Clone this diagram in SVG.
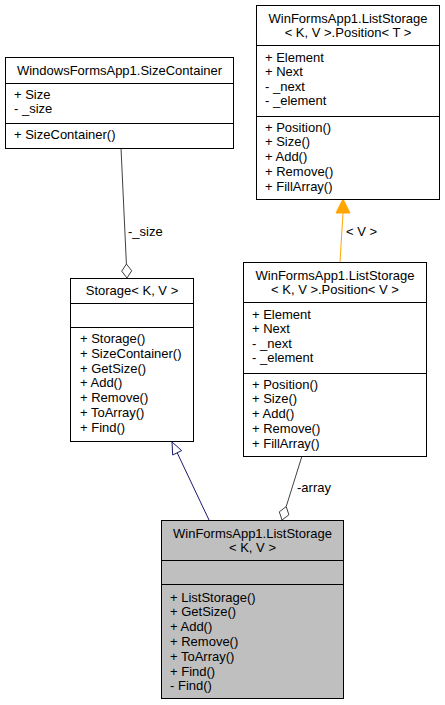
<svg xmlns="http://www.w3.org/2000/svg" width="445" height="705" viewBox="0 0 445 705">
<style>
.box{fill:#fff;stroke:#000;stroke-width:1}
.cur{fill:#bfbfbf;stroke:#000;stroke-width:1}
.div{stroke:#000;stroke-width:1}
text{font-family:"Liberation Sans",Arial,sans-serif;font-size:13px;fill:#000}
.c{text-anchor:middle}
.agg{fill:none;stroke:#404040;stroke-width:1}
.aggh{fill:#fff;stroke:#404040;stroke-width:1}
.inh{fill:none;stroke:#191970;stroke-width:1}
.inhh{fill:#fff;stroke:#191970;stroke-width:1}
.tpl{fill:none;stroke:#ffa500;stroke-width:1}
.tplh{fill:#ffa500;stroke:#ffa500;stroke-width:1}
</style>
<rect width="445" height="705" fill="#fff"/>
<g id="connectors">
  <path class="agg" d="M121,148 L126.4,264"/>
  <polygon class="aggh" points="127,278 131.7,270.8 126.4,264 121.7,271.2"/>
  <text x="128" y="236">-_size</text>
  <path class="inh" d="M209,520 L177.2,452.8"/>
  <polygon class="inhh" points="172,442 181.7,450.6 172.7,455"/>
  <path class="tpl" d="M340,262 L343,213"/>
  <polygon class="tplh" points="343,199 350,213 336,213"/>
  <text x="346" y="236">&lt; V &gt;</text>
  <path class="agg" d="M302,456 L286.2,506.6"/>
  <polygon class="aggh" points="282,520 288.9,514.8 286.2,506.6 279.3,511.8"/>
  <text x="297" y="492">-array</text>
</g>
<g id="SizeContainer">
  <rect class="box" x="5.5" y="57.5" width="228" height="91"/>
  <line class="div" x1="5.5" y1="83.5" x2="233.5" y2="83.5"/>
  <line class="div" x1="5.5" y1="123.5" x2="233.5" y2="123.5"/>
  <text class="c" x="119.5" y="74.5">WindowsFormsApp1.SizeContainer</text>
  <text x="14" y="98.5">+ Size</text>
  <text x="14" y="113">- _size</text>
  <text x="14" y="138.5">+ SizeContainer()</text>
</g>
<g id="PositionT">
  <rect class="box" x="256.5" y="5.5" width="183" height="194"/>
  <line class="div" x1="256.5" y1="45.5" x2="439.5" y2="45.5"/>
  <line class="div" x1="256.5" y1="116.5" x2="439.5" y2="116.5"/>
  <text class="c" x="348" y="22.5">WinFormsApp1.ListStorage</text>
  <text class="c" x="348" y="36.5">&lt; K, V &gt;.Position&lt; T &gt;</text>
  <text x="265" y="61.5">+ Element</text>
  <text x="265" y="76">+ Next</text>
  <text x="265" y="90.5">- _next</text>
  <text x="265" y="105">- _element</text>
  <text x="265" y="131.5">+ Position()</text>
  <text x="265" y="146.2">+ Size()</text>
  <text x="265" y="161">+ Add()</text>
  <text x="265" y="175.7">+ Remove()</text>
  <text x="265" y="190.5">+ FillArray()</text>
</g>
<g id="Storage">
  <rect class="box" x="70.5" y="278.5" width="123" height="163"/>
  <line class="div" x1="70.5" y1="303.5" x2="193.5" y2="303.5"/>
  <line class="div" x1="70.5" y1="327.5" x2="193.5" y2="327.5"/>
  <text class="c" x="132" y="294.5">Storage&lt; K, V &gt;</text>
  <text x="80" y="343">+ Storage()</text>
  <text x="80" y="357.8">+ SizeContainer()</text>
  <text x="80" y="372.6">+ GetSize()</text>
  <text x="80" y="387.4">+ Add()</text>
  <text x="80" y="402.2">+ Remove()</text>
  <text x="80" y="417">+ ToArray()</text>
  <text x="80" y="431.8">+ Find()</text>
</g>
<g id="PositionV">
  <rect class="box" x="243.5" y="262.5" width="183" height="194"/>
  <line class="div" x1="243.5" y1="302.5" x2="426.5" y2="302.5"/>
  <line class="div" x1="243.5" y1="373.5" x2="426.5" y2="373.5"/>
  <text class="c" x="335" y="279.5">WinFormsApp1.ListStorage</text>
  <text class="c" x="335" y="293.5">&lt; K, V &gt;.Position&lt; V &gt;</text>
  <text x="252" y="318.5">+ Element</text>
  <text x="252" y="333">+ Next</text>
  <text x="252" y="347.5">- _next</text>
  <text x="252" y="362">- _element</text>
  <text x="252" y="388.5">+ Position()</text>
  <text x="252" y="403.2">+ Size()</text>
  <text x="252" y="418">+ Add()</text>
  <text x="252" y="432.7">+ Remove()</text>
  <text x="252" y="447.5">+ FillArray()</text>
</g>
<g id="ListStorage">
  <rect class="cur" x="161.5" y="520.5" width="182" height="178"/>
  <line class="div" x1="161.5" y1="560.5" x2="343.5" y2="560.5"/>
  <line class="div" x1="161.5" y1="584.5" x2="343.5" y2="584.5"/>
  <text class="c" x="252.5" y="537.5">WinFormsApp1.ListStorage</text>
  <text class="c" x="252.5" y="551.5">&lt; K, V &gt;</text>
  <text x="170" y="601.5">+ ListStorage()</text>
  <text x="170" y="616.3">+ GetSize()</text>
  <text x="170" y="631.1">+ Add()</text>
  <text x="170" y="645.9">+ Remove()</text>
  <text x="170" y="660.7">+ ToArray()</text>
  <text x="170" y="675.5">+ Find()</text>
  <text x="170" y="690.3">- Find()</text>
</g>
</svg>
